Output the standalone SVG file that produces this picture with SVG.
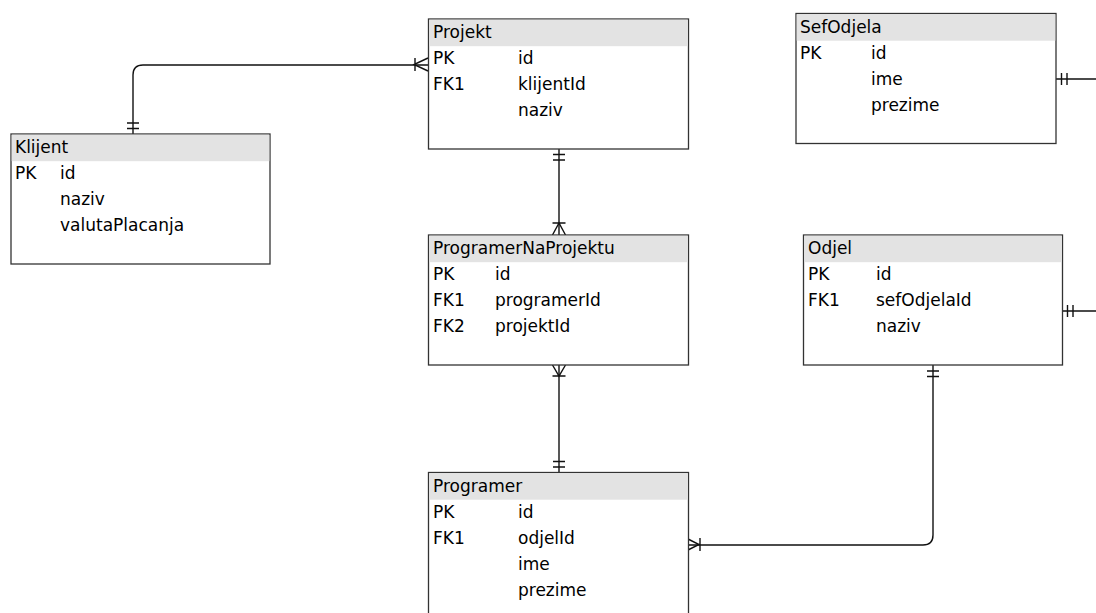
<svg xmlns="http://www.w3.org/2000/svg" width="1096" height="613" viewBox="0 0 1096 613">
<style>
.box{fill:#fff;stroke:#333;stroke-width:1.3}
.hdr{fill:#e3e3e3}
text{font-family:"DejaVu Sans",Verdana,sans-serif;font-size:17px;fill:#000}
.ln{fill:none;stroke:#111;stroke-width:1.4}
</style>
<rect width="1096" height="613" fill="#fff"/>
<g id="connectors" class="ln">
  <!-- Klijent - Projekt -->
  <path d="M133,134 V75 Q133,65 143,65 H428"/>
  <path d="M127,123 H139 M127,128.5 H139"/>
  <path d="M428,58 L414,64.5 L428,71 M415,58 V71"/>
  <!-- Projekt - PNP -->
  <path d="M559,149 V235"/>
  <path d="M553,154.5 H565 M553,160 H565"/>
  <path d="M552.5,235 L559,223 L565.5,235 M552.5,223 H565.5"/>
  <!-- PNP - Programer -->
  <path d="M559,365 V472"/>
  <path d="M552.5,365 L559,376 L565.5,365 M552.5,376 H565.5"/>
  <path d="M553,461.5 H565 M553,467 H565"/>
  <!-- Odjel - Programer -->
  <path d="M933,365 V535 Q933,545 923,545 H688"/>
  <path d="M927,371 H939 M927,376.5 H939"/>
  <path d="M688,539 L699,544.5 L688,550 M700,538 V551"/>
  <!-- SefOdjela off-page -->
  <path d="M1056,79 H1096 M1061.5,73 V85 M1067,73 V85"/>
  <!-- Odjel off-page -->
  <path d="M1063,311 H1096 M1067.5,305 V317 M1073,305 V317"/>
</g>
<g id="klijent">
  <rect class="box" x="11" y="134" width="259" height="130"/>
  <rect class="hdr" x="11.7" y="134.7" width="257.6" height="26.5"/>
  <text x="15" y="153">Klijent</text>
  <text x="15" y="179">PK</text><text x="60" y="179">id</text>
  <text x="60" y="205">naziv</text>
  <text x="60" y="231">valutaPlacanja</text>
</g>
<g id="projekt">
  <rect class="box" x="428.5" y="19" width="260" height="130"/>
  <rect class="hdr" x="429.2" y="19.7" width="258.6" height="26.5"/>
  <text x="433" y="38">Projekt</text>
  <text x="433" y="64">PK</text><text x="518" y="64">id</text>
  <text x="433" y="90">FK1</text><text x="518" y="90">klijentId</text>
  <text x="518" y="116">naziv</text>
</g>
<g id="sefodjela">
  <rect class="box" x="796" y="13.5" width="260" height="130"/>
  <rect class="hdr" x="796.7" y="14.2" width="258.6" height="26.5"/>
  <text x="800" y="32.5">SefOdjela</text>
  <text x="800" y="58.5">PK</text><text x="871" y="58.5">id</text>
  <text x="871" y="84.5">ime</text>
  <text x="871" y="110.5">prezime</text>
</g>
<g id="programernaprojektu">
  <rect class="box" x="428.5" y="235" width="260" height="130"/>
  <rect class="hdr" x="429.2" y="235.7" width="258.6" height="26.5"/>
  <text x="433" y="254">ProgramerNaProjektu</text>
  <text x="433" y="280">PK</text><text x="495" y="280">id</text>
  <text x="433" y="306">FK1</text><text x="495" y="306">programerId</text>
  <text x="433" y="332">FK2</text><text x="495" y="332">projektId</text>
</g>
<g id="odjel">
  <rect class="box" x="803.5" y="235" width="259" height="130"/>
  <rect class="hdr" x="804.2" y="235.7" width="257.6" height="26.5"/>
  <text x="808" y="254">Odjel</text>
  <text x="808" y="280">PK</text><text x="876" y="280">id</text>
  <text x="808" y="306">FK1</text><text x="876" y="306">sefOdjelaId</text>
  <text x="876" y="332">naziv</text>
</g>
<g id="programer">
  <rect class="box" x="428.5" y="472.5" width="260" height="160"/>
  <rect class="hdr" x="429.2" y="473.2" width="258.6" height="26.5"/>
  <text x="433" y="492">Programer</text>
  <text x="433" y="518">PK</text><text x="518" y="518">id</text>
  <text x="433" y="544">FK1</text><text x="518" y="544">odjelId</text>
  <text x="518" y="570">ime</text>
  <text x="518" y="596">prezime</text>
</g>
</svg>
